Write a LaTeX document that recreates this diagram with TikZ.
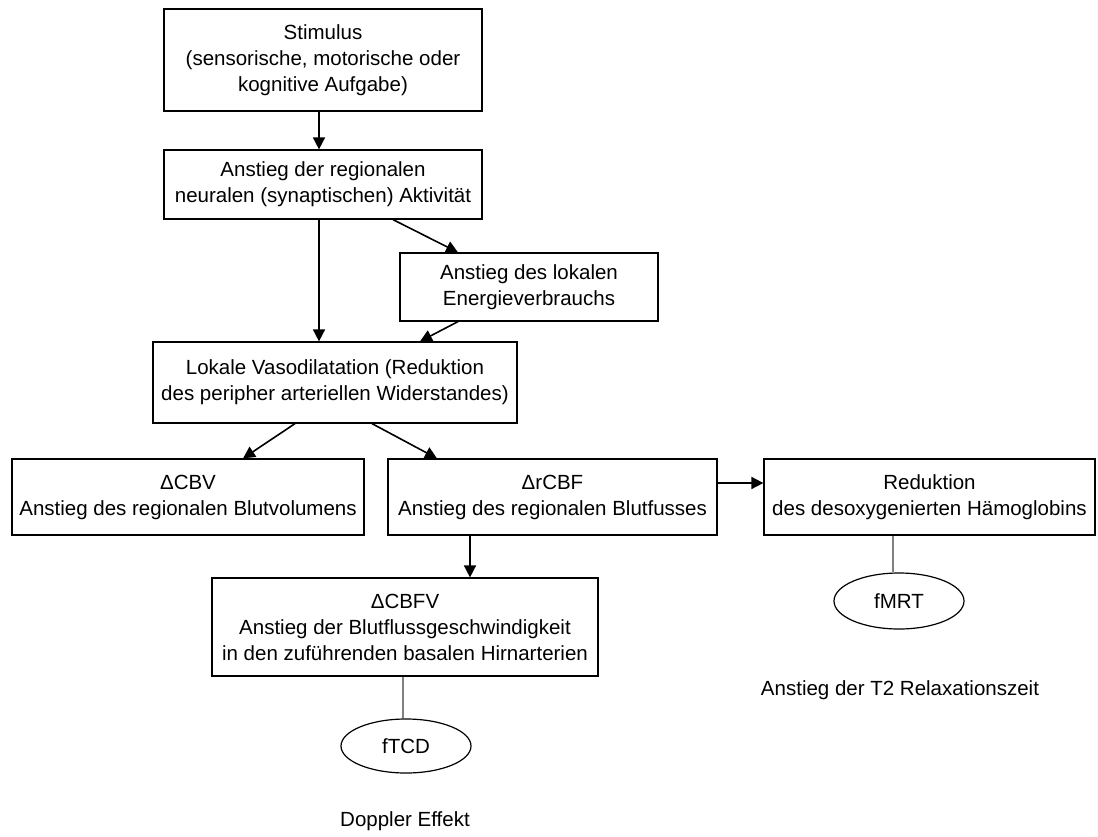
\documentclass[tikz,border=0pt]{standalone}
\usepackage{fontspec}
\setmainfont{Liberation Sans}
\usetikzlibrary{arrows.meta,shapes.geometric}
\tikzset{
  box/.style={draw, line width=1.2pt, rectangle, align=center, inner sep=0pt,
    font=\fontsize{20.5}{26}\selectfont},
  oval/.style={draw, line width=1.2pt, ellipse, inner sep=0pt,
    font=\fontsize{20.5}{26}\selectfont},
  plain/.style={align=center, inner sep=0pt, font=\fontsize{20.5}{26}\selectfont},
  arr/.style={line width=1.6pt, -{Triangle[length=12pt,width=12pt]}},
  gline/.style={line width=2pt, draw=black!50},
}
\begin{document}
\begin{tikzpicture}[x=1pt,y=-1pt]
\useasboundingbox[fill=white] (0,0) rectangle (1098,836);
\node[box, minimum width=318pt, minimum height=102pt] (stim) at (323,60)
  {Stimulus\\(sensorische, motorische oder\\kognitive Aufgabe)};
\node[box, minimum width=318pt, minimum height=69pt] (act) at (323,184.5)
  {Anstieg der regionalen\\neuralen (synaptischen) Aktivität};
\node[box, minimum width=258pt, minimum height=68pt] (energ) at (529,287)
  {Anstieg des lokalen\\Energieverbrauchs};
\node[box, minimum width=364pt, minimum height=81pt] (vaso) at (335,382.5)
  {Lokale Vasodilatation (Reduktion\\des peripher arteriellen Widerstandes)};
\node[box, minimum width=352pt, minimum height=76pt] (cbv) at (188,497)
  {ΔCBV\\Anstieg des regionalen Blutvolumens};
\node[box, minimum width=329pt, minimum height=76pt] (rcbf) at (552.5,497)
  {ΔrCBF\\Anstieg des regionalen Blutfusses};
\node[box, minimum width=331pt, minimum height=76pt] (red) at (929.5,497)
  {Reduktion\\des desoxygenierten Hämoglobins};
\node[box, minimum width=386pt, minimum height=98pt] (cbfv) at (405,627)
  {ΔCBFV\\Anstieg der Blutflussgeschwindigkeit\\in den zuführenden basalen Hirnarterien};
\node[oval, minimum width=130pt, minimum height=56pt] (fmrt) at (899,601) {fMRT};
\node[oval, minimum width=130pt, minimum height=54pt] (ftcd) at (406,746) {fTCD};
\node[plain] (t2) at (900,690) {Anstieg der T2 Relaxationszeit};
\node[plain] (dop) at (405,821) {Doppler Effekt};

\draw[arr] ([xshift=-4]stim.south) -- ([xshift=-4]act.north);
\draw[arr] ([xshift=-4]act.south) -- ([xshift=-4]act.south |- vaso.north);
\draw[arr] ([xshift=70]act.south) -- ([xshift=-71]energ.north);
\draw[arr] ([xshift=-71]energ.south) -- ([xshift=85]vaso.north);
\draw[arr] ([xshift=-40]vaso.south) -- ([xshift=55]cbv.north);
\draw[arr] ([xshift=37]vaso.south) -- ([xshift=-115.5]rcbf.north);
\draw[arr] ([yshift=14]rcbf.east) -- ([yshift=14]red.west);
\draw[arr] ([xshift=-82.5]rcbf.south) -- ([xshift=-82.5]rcbf.south |- cbfv.north);
\draw[gline] ([xshift=-6]fmrt.north |- red.south) -- ([xshift=-6]fmrt.north);
\draw[gline] ([xshift=-3]ftcd.north |- cbfv.south) -- ([xshift=-3]ftcd.north);
\end{tikzpicture}
\end{document}
